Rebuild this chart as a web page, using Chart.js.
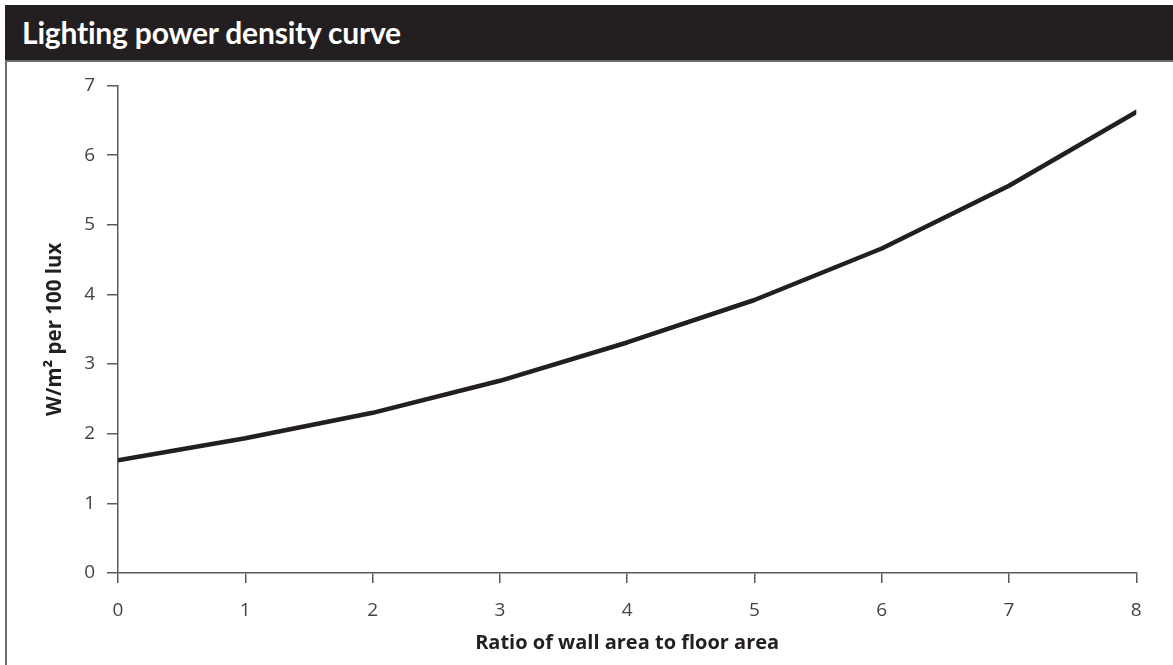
<!DOCTYPE html>
<html>
<head>
<meta charset="utf-8">
<script src="https://cdn.jsdelivr.net/npm/chart.js@4.4.1/dist/chart.umd.min.js"></script>
<style>
  html, body { margin: 0; padding: 0; background: #fff; width: 1173px; height: 665px; overflow: hidden; }
  #bar { position: absolute; left: 5px; top: 5px; width: 1168px; height: 55px; background: #231f20;
         border-bottom: 2px solid #6d6d6d; box-sizing: content-box; }
  #bar span { position: absolute; left: 17px; top: 9px; color: #fff; font-family: Lato, "Open Sans", sans-serif;
              font-weight: bold; font-size: 30px; letter-spacing: -0.2px; }
  #side { position: absolute; left: 5px; top: 62px; width: 0; height: 603px; border-left: 2px solid #6d6d6d; }
  #wrap { position: absolute; left: 8px; top: 62px; width: 1165px; height: 603px; }
</style>
</head>
<body>
<div id="bar"><span>Lighting power density curve</span></div>
<div id="side"></div>
<div id="wrap"><canvas id="c"></canvas></div>
<script>
const ratios = [0, 1, 2, 3, 4, 5, 6, 7, 8];
const lpd = [1.62, 1.935, 2.30, 2.76, 3.31, 3.92, 4.66, 5.56, 6.62];
const xTicks = [0, 1, 2, 3, 4, 5, 6, 7, 8];
const yTicks = [0, 1, 2, 3, 4, 5, 6, 7];
const xTitle = 'Ratio of wall area to floor area';
const yTitle = 'W/m\u00B2 per 100 lux';

const axisColor = '#5a5a5a';
const textColor = '#444444';
const tickFont = { family: '"Open Sans", sans-serif', size: 19 };

new Chart(document.getElementById('c'), {
  type: 'line',
  data: {
    datasets: [{
      data: ratios.map((r, i) => ({ x: r, y: lpd[i] })),
      borderColor: '#231f20',
      borderWidth: 4.5,
      borderCapStyle: 'round',
      borderJoinStyle: 'round',
      pointRadius: 0,
      tension: 0,
      fill: false
    }]
  },
  options: {
    responsive: true,
    maintainAspectRatio: false,
    animation: false,
    layout: { padding: { top: 23.5, right: 36.7, left: 0, bottom: 0 } },
    plugins: { legend: { display: false }, tooltip: { enabled: false } },
    scales: {
      x: {
        type: 'linear', min: 0, max: 8,
        afterBuildTicks: s => { s.ticks = xTicks.map(v => ({ value: v })); },
        afterFit: s => { s.height = 92; },
        grid: { drawOnChartArea: false, drawTicks: true, tickLength: 10, color: axisColor, lineWidth: 1.5 },
        border: { display: true, color: axisColor, width: 1.5 },
        ticks: { color: textColor, font: tickFont, padding: 16, maxRotation: 0 },
        title: { display: true, text: xTitle, color: '#231f20',
                 font: { family: '"Open Sans", sans-serif', size: 20, weight: 'bold' }, padding: { top: 0, bottom: 10 } }
      },
      y: {
        type: 'linear', min: 0, max: 7,
        afterBuildTicks: s => { s.ticks = yTicks.map(v => ({ value: v })); },
        afterFit: s => { s.width = 110; },
        grid: { drawOnChartArea: false, drawTicks: true, tickLength: 11, color: axisColor, lineWidth: 1.5 },
        border: { display: true, color: axisColor, width: 1.5 },
        ticks: { color: textColor, font: tickFont, padding: 12 },
        title: { display: true, text: yTitle, color: '#231f20',
                 font: { family: '"Open Sans", sans-serif', size: 20.5, weight: 'bold' }, padding: { top: 34.7, bottom: 0 } }
      }
    }
  }
});
</script>
</body>
</html>
